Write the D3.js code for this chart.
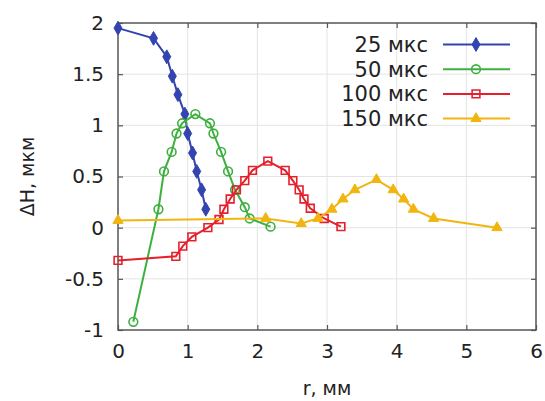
<!DOCTYPE html>
<html><head><meta charset="utf-8">
<script src="https://cdn.jsdelivr.net/npm/d3@7"></script>
<style>body{margin:0;background:#fff;} svg{display:block;}</style>
</head><body><svg id="c" width="545" height="401"></svg>
<script>
const seriesNames = ["25 мкс", "50 мкс", "100 мкс", "150 мкс"];
const s25x = [0, 0.51, 0.70, 0.78, 0.86, 0.96, 1.00, 1.07, 1.13, 1.20, 1.26];
const s25y = [1.95, 1.85, 1.67, 1.48, 1.30, 1.11, 0.92, 0.73, 0.55, 0.37, 0.18];
const s50x = [0.22, 0.58, 0.66, 0.77, 0.84, 0.92, 1.11, 1.32, 1.37, 1.48, 1.58, 1.68, 1.82, 1.89, 2.19];
const s50y = [-0.92, 0.18, 0.55, 0.74, 0.92, 1.02, 1.11, 1.02, 0.92, 0.74, 0.55, 0.37, 0.20, 0.09, 0.01];
const s100x = [0, 0.83, 0.93, 1.06, 1.29, 1.45, 1.52, 1.61, 1.70, 1.82, 1.93, 2.15, 2.40, 2.51, 2.60, 2.67, 2.76, 2.96, 3.20];
const s100y = [-0.32, -0.28, -0.18, -0.09, 0.00, 0.08, 0.18, 0.28, 0.37, 0.46, 0.56, 0.65, 0.56, 0.46, 0.37, 0.28, 0.19, 0.09, 0.01];
const s150x = [0, 2.12, 2.63, 2.87, 3.07, 3.23, 3.40, 3.71, 3.95, 4.10, 4.24, 4.53, 5.44];
const s150y = [0.07, 0.09, 0.04, 0.09, 0.18, 0.28, 0.37, 0.47, 0.37, 0.28, 0.18, 0.09, 0.00];
const xTicks = [0, 1, 2, 3, 4, 5, 6];
const yTicks = [-1, -0.5, 0, 0.5, 1, 1.5, 2];
const xTitle = "r, мм";
const yTitle = "ΔH, мкм";

const colors = ["#3344b0", "#3db040", "#e3202c", "#f2b50f"];
const symbols = [d3.symbolDiamond, d3.symbolCircle, d3.symbolSquare, d3.symbolTriangle];
const symSize = [55, 60, 60, 45];
const filled = [true, false, false, true];

const series = [[s25x, s25y], [s50x, s50y], [s100x, s100y], [s150x, s150y]].map((p, i) => ({
  name: seriesNames[i], pts: p[0].map((x, j) => [x, p[1][j]])
}));

const L = 118, R = 536, T = 23, B = 330;
const x = d3.scaleLinear().domain([0, 6]).range([L, R]);
const y = d3.scaleLinear().domain([-1, 2]).range([B, T]);
const svg = d3.select("#c");
const font = "DejaVu Sans, sans-serif";

// grid
svg.append("g").selectAll("line").data(xTicks.slice(1, -1)).join("line")
  .attr("x1", d => x(d)).attr("x2", d => x(d)).attr("y1", T).attr("y2", B)
  .attr("stroke", "#e4e4e4").attr("stroke-width", 1);
svg.append("g").selectAll("line").data(yTicks.slice(1, -1)).join("line")
  .attr("y1", d => y(d)).attr("y2", d => y(d)).attr("x1", L).attr("x2", R)
  .attr("stroke", "#e4e4e4").attr("stroke-width", 1);

// axes (ticks inside)
const ax = (g, axis) => g.call(axis).call(g => g.select(".domain").remove())
  .call(g => g.selectAll(".tick line").attr("stroke", "#555").attr("stroke-width", 1.2))
  .call(g => g.selectAll("text").attr("font-family", font).attr("font-size", 20).attr("fill", "#222"));
svg.append("g").attr("transform", `translate(0,${B})`)
  .call(g => ax(g, d3.axisBottom(x).tickValues(xTicks).tickFormat(d3.format("d")).tickSizeInner(-5).tickPadding(14)));
svg.append("g").attr("transform", `translate(0,${T})`)
  .call(g => ax(g, d3.axisTop(x).tickValues(xTicks).tickFormat("").tickSizeInner(-5)));
svg.append("g").attr("transform", `translate(${L},0)`)
  .call(g => ax(g, d3.axisLeft(y).tickValues(yTicks).tickFormat(d => String(d)).tickSizeInner(-5).tickPadding(14)));
svg.append("g").attr("transform", `translate(${R},0)`)
  .call(g => ax(g, d3.axisRight(y).tickValues(yTicks).tickFormat("").tickSizeInner(-5)));

svg.append("rect").attr("x", L).attr("y", T).attr("width", R - L).attr("height", B - T)
  .attr("fill", "none").attr("stroke", "#555").attr("stroke-width", 1.5);

// series
const line = d3.line().x(d => x(d[0])).y(d => y(d[1]));
series.forEach((s, i) => {
  const g = svg.append("g");
  g.append("path").attr("d", line(s.pts)).attr("fill", "none")
    .attr("stroke", colors[i]).attr("stroke-width", 2);
  g.selectAll("path.m").data(s.pts).join("path").attr("class", "m")
    .attr("transform", d => `translate(${x(d[0])},${y(d[1])})`)
    .attr("d", d3.symbol().type(symbols[i]).size(symSize[i]))
    .attr("fill", filled[i] ? colors[i] : "none")
    .attr("stroke", colors[i]).attr("stroke-width", filled[i] ? 1 : 1.6);
});

// legend
const lg = svg.append("g");
series.forEach((s, i) => {
  const yy = 44.5 + i * 24.7;
  lg.append("text").attr("x", 428).attr("y", yy).attr("dy", "0.36em")
    .attr("text-anchor", "end").attr("font-family", font).attr("font-size", 21)
    .attr("fill", "#222").text(s.name);
  lg.append("line").attr("x1", 443).attr("x2", 510).attr("y1", yy).attr("y2", yy)
    .attr("stroke", colors[i]).attr("stroke-width", 2);
  lg.append("path").attr("transform", `translate(476,${yy})`)
    .attr("d", d3.symbol().type(symbols[i]).size(symSize[i]))
    .attr("fill", filled[i] ? colors[i] : "none")
    .attr("stroke", colors[i]).attr("stroke-width", filled[i] ? 1 : 1.6);
});

// titles
svg.append("text").attr("x", (L + R) / 2).attr("y", 395)
  .attr("text-anchor", "middle").attr("font-family", font).attr("font-size", 19)
  .attr("fill", "#222").text(xTitle);
svg.append("text").attr("transform", `translate(27,${(T + B) / 2}) rotate(-90)`)
  .attr("dy", "0.36em").attr("text-anchor", "middle").attr("font-family", font)
  .attr("font-size", 19).attr("fill", "#222").text(yTitle);
</script></body></html>
